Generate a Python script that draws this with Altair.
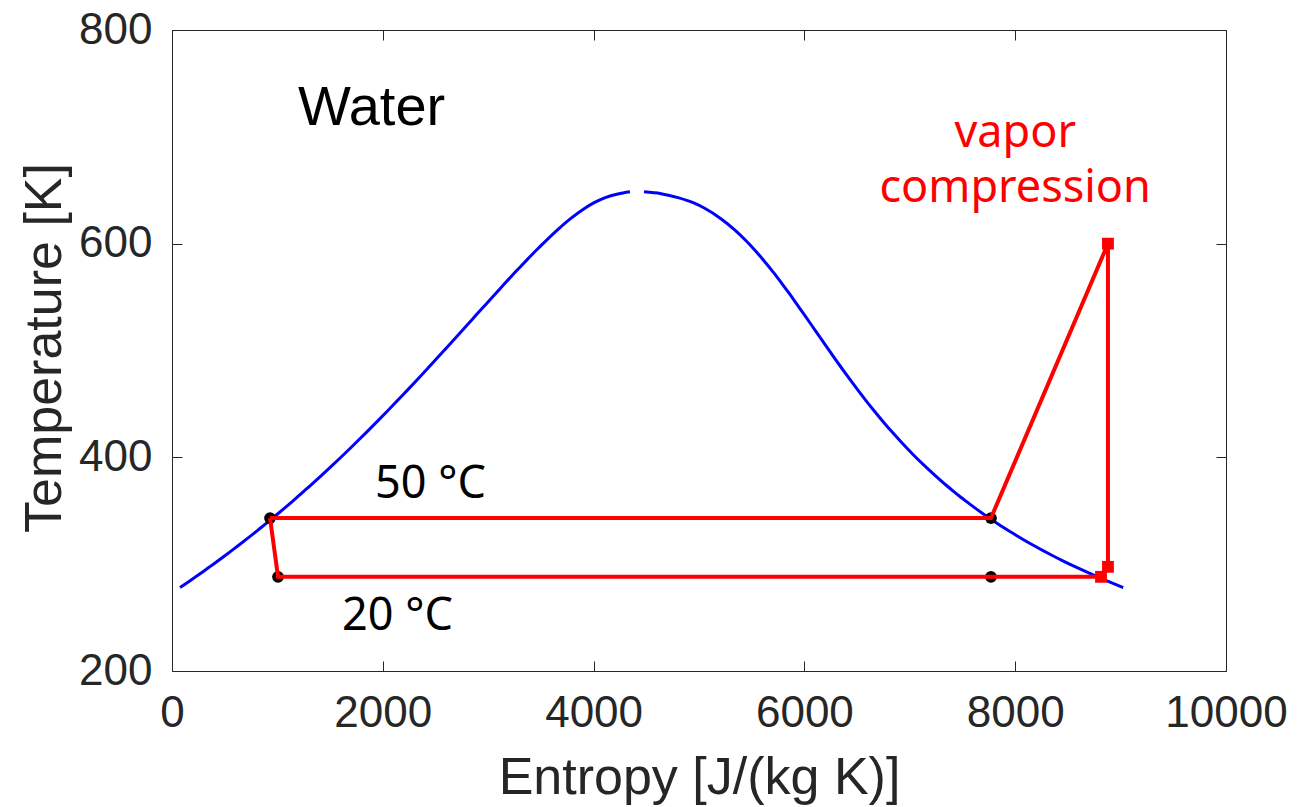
import altair as alt
import pandas as pd

# ---- data -------------------------------------------------------------
# saturation dome of water: temperature [K], entropy [J/(kg K)]
liq_T = [278.15, 283.15, 288.15, 293.15, 298.15, 303.15, 308.15, 313.15, 318.15, 323.15,
         328.15, 333.15, 338.15, 343.15, 348.15, 353.15, 358.15, 363.15, 368.15, 373.15,
         383.15, 393.15, 403.15, 413.15, 423.15, 433.15, 443.15, 453.15, 463.15, 473.15,
         483.15, 493.15, 503.15, 513.15, 523.15, 533.15, 543.15, 553.15, 563.15, 573.15,
         583.15, 593.15, 603.15, 613.15, 623.15, 633.15, 638.15, 643.15, 646.5, 648.5]
liq_s = [76, 151, 225, 297, 367, 437, 505, 572, 639, 704,
         768, 831, 894, 955, 1016, 1076, 1135, 1193, 1250, 1307,
         1419, 1528, 1635, 1739, 1842, 1943, 2042, 2139, 2236, 2331,
         2425, 2518, 2610, 2702, 2794, 2885, 2977, 3069, 3161, 3255,
         3351, 3449, 3552, 3660, 3778, 3917, 4001, 4111, 4230, 4345]
vap_T = [278.15, 283.15, 288.15, 293.15, 298.15, 303.15, 308.15, 313.15, 318.15, 323.15,
         328.15, 333.15, 338.15, 343.15, 348.15, 353.15, 358.15, 363.15, 368.15, 373.15,
         383.15, 393.15, 403.15, 413.15, 423.15, 433.15, 443.15, 453.15, 463.15, 473.15,
         483.15, 493.15, 503.15, 513.15, 523.15, 533.15, 543.15, 553.15, 563.15, 573.15,
         583.15, 593.15, 603.15, 613.15, 623.15, 633.15, 638.15, 643.15, 646.8, 648.5]
vap_s = [9025, 8900, 8780, 8666, 8557, 8452, 8352, 8256, 8163, 8075,
         7990, 7908, 7830, 7754, 7681, 7611, 7544, 7478, 7415, 7354,
         7239, 7129, 7026, 6929, 6837, 6749, 6665, 6584, 6506, 6430,
         6356, 6284, 6213, 6142, 6072, 6002, 5930, 5858, 5783, 5706,
         5624, 5537, 5442, 5336, 5211, 5054, 4950, 4801, 4640, 4478]

# vapor compression cycle
cycle_s = [930, 7770, 8880, 8880, 8814, 1006, 930]
cycle_T = [343.15, 343.15, 600, 297.5, 288.15, 288.15, 343.15]

# black state points
black_s = [930, 1006, 7770, 7770]
black_T = [343.15, 288.15, 343.15, 288.15]

# red state points
redpt_s = [8880, 8880, 8814]
redpt_T = [600, 297.5, 288.15]

# annotations
water_label = ["Water"]
water_s = [1195]
water_T = [711]
vapor_label = ["vapor", "compression"]
vapor_s = [8000, 8000]
vapor_T = [690.5, 639.0]
temp_label = ["50 °C", "20 °C"]
temp_s = [1926, 1613]
temp_T = [362, 238.5]

x_ticks = [0, 2000, 4000, 6000, 8000, 10000]
y_ticks = [200, 400, 600, 800]

# ---- tables -------------------------------------------------------------
dome_df = pd.DataFrame({
    "s": liq_s + vap_s,
    "T": liq_T + vap_T,
    "branch": ["liquid"] * len(liq_s) + ["vapor"] * len(vap_s),
})
cycle_df = pd.DataFrame({"s": cycle_s, "T": cycle_T, "i": list(range(len(cycle_s)))})
black_df = pd.DataFrame({"s": black_s, "T": black_T})
redpt_df = pd.DataFrame({"s": redpt_s, "T": redpt_T})
water_df = pd.DataFrame({"s": water_s, "T": water_T, "label": water_label})
vapor_df = pd.DataFrame({"s": vapor_s, "T": vapor_T, "label": vapor_label})
temp_df = pd.DataFrame({"s": temp_s, "T": temp_T, "label": temp_label})

# ---- styling ------------------------------------------------------------
W, H = 1054, 641
AX = "#262626"
FONT = "Liberation Sans"
xs = alt.Scale(domain=[0, 10000], nice=False, zero=False)
ys = alt.Scale(domain=[200, 800], nice=False, zero=False)

main_x = alt.Axis(orient="bottom", values=x_ticks, format="d", ticks=False, domain=False,
                  grid=False, labelFlush=False, labelOverlap=False,
                  labelFont=FONT, labelFontSize=44, labelColor=AX, labelPadding=20,
                  title="Entropy [J/(kg K)]", titleFont=FONT, titleFontSize=52,
                  titleFontWeight="normal", titleColor=AX, titleX=W / 2, titleY=122,
                  titleBaseline="alphabetic")
main_y = alt.Axis(orient="left", values=y_ticks, format="d", ticks=False, domain=False,
                  grid=False, labelOverlap=False,
                  labelFont=FONT, labelFontSize=44, labelColor=AX, labelPadding=20,
                  title="Temperature [K]", titleFont=FONT, titleFontSize=52,
                  titleFontWeight="normal", titleColor=AX, titleAngle=270,
                  titleX=-112, titleY=H / 2 - 3, titleBaseline="alphabetic")


def tick_axis(orient, offset, values):
    return alt.Axis(orient=orient, offset=offset, values=values, tickSize=10,
                    tickColor=AX, tickWidth=1, labels=False, domain=False,
                    grid=False, title="")


in_bottom = tick_axis("top", -H, x_ticks)
in_top = tick_axis("bottom", -H, x_ticks)
in_left = tick_axis("right", -W, y_ticks)
in_right = tick_axis("left", -W, y_ticks)

# ---- layers -------------------------------------------------------------
blue = alt.Chart(dome_df).mark_line(color="#0000ff", strokeWidth=3,
                                    interpolate="monotone").encode(
    x=alt.X("s:Q", scale=xs, axis=main_x),
    y=alt.Y("T:Q", scale=ys, axis=main_y),
    detail="branch:N",
    order="T:Q",
)

black = alt.Chart(black_df).mark_circle(color="black", size=140, opacity=1).encode(
    x=alt.X("s:Q", scale=xs, axis=None),
    y=alt.Y("T:Q", scale=ys, axis=None),
)

red = alt.Chart(cycle_df).mark_line(color="#ff0000", strokeWidth=4).encode(
    x=alt.X("s:Q", scale=xs, axis=in_bottom),
    y=alt.Y("T:Q", scale=ys, axis=in_left),
    order="i:Q",
)

redpts = alt.Chart(redpt_df).mark_point(shape="square", filled=True, color="#ff0000",
                                         size=140, opacity=1).encode(
    x=alt.X("s:Q", scale=xs, axis=in_top),
    y=alt.Y("T:Q", scale=ys, axis=in_right),
)

water = alt.Chart(water_df).mark_text(font=FONT, fontSize=56, color="black",
                                      align="left", baseline="alphabetic").encode(
    x=alt.X("s:Q", scale=xs, axis=None),
    y=alt.Y("T:Q", scale=ys, axis=None),
    text="label:N",
)

vapor = alt.Chart(vapor_df).mark_text(font="Noto Sans", fontSize=45, color="#ff0000",
                                      align="center", baseline="alphabetic").encode(
    x=alt.X("s:Q", scale=xs, axis=None),
    y=alt.Y("T:Q", scale=ys, axis=None),
    text="label:N",
)

temps = alt.Chart(temp_df).mark_text(font="Noto Sans", fontSize=45, color="black",
                                     align="left", baseline="alphabetic").encode(
    x=alt.X("s:Q", scale=xs, axis=None),
    y=alt.Y("T:Q", scale=ys, axis=None),
    text="label:N",
)

chart = (
    alt.layer(blue, black, red, redpts, water, vapor, temps)
    .resolve_axis(x="independent", y="independent")
    .properties(
        width=W,
        height=H,
        autosize=alt.AutoSizeParams(type="none"),
        padding={"left": 172, "top": 30, "right": 73, "bottom": 136},
        background="white",
    )
    .configure_view(stroke=AX, strokeWidth=1)
)

chart.save("out.html", embed_options={"renderer": "svg", "actions": False})
